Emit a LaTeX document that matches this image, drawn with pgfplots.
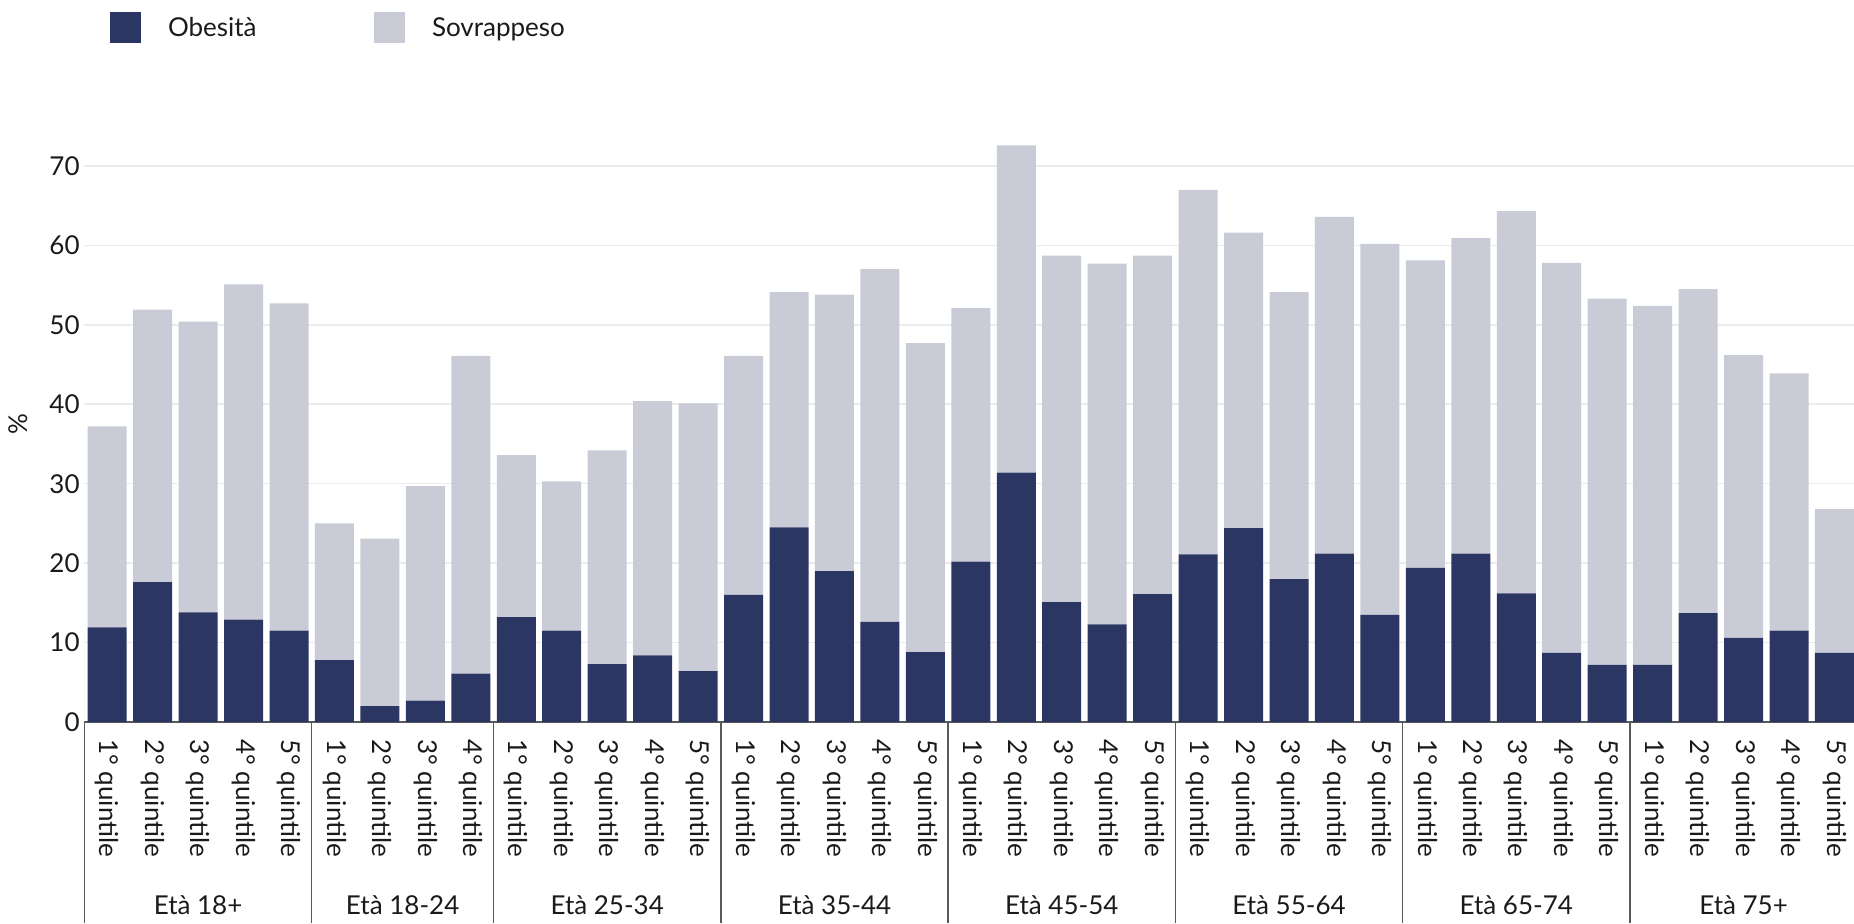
\documentclass[border=0pt]{standalone}
\usepackage{fontspec}
\setmainfont{Lato}
\usepackage{pgfplots}
\pgfplotsset{compat=1.18}
\usepackage{pgfplotstable}
\definecolor{obcol}{HTML}{2B3663}
\definecolor{sovcol}{HTML}{C9CBD7}
\definecolor{gridcol}{HTML}{EBEBEB}
\definecolor{axcol}{HTML}{595959}
\definecolor{txtcol}{HTML}{1A1A1A}
\newcommand{\fs}{\fontsize{13pt}{15.6pt}\selectfont}

\pgfplotstableread{
x ob sov
0 11.9 25.3
1 17.6 34.3
2 13.8 36.6
3 12.9 42.2
4 11.5 41.2
5 7.8 17.2
6 2.0 21.1
7 2.7 27.0
8 6.1 40.0
9 13.2 20.4
10 11.5 18.8
11 7.3 26.9
12 8.4 32.0
13 6.4 33.7
14 16.0 30.1
15 24.5 29.6
16 19.0 34.8
17 12.6 44.4
18 8.8 38.9
19 20.2 31.9
20 31.4 41.2
21 15.1 43.6
22 12.3 45.4
23 16.1 42.6
24 21.1 45.9
25 24.4 37.2
26 18.0 36.1
27 21.2 42.4
28 13.5 46.7
29 19.4 38.7
30 21.2 39.7
31 16.2 48.1
32 8.7 49.1
33 7.2 46.1
34 7.2 45.2
35 13.7 40.8
36 10.6 35.6
37 11.5 32.4
38 8.7 18.1
}\datatable

\begin{document}
\begin{tikzpicture}
\begin{axis}[
  at={(42pt,100.5pt)}, anchor=south west,
  scale only axis, width=885pt, height=297.9pt,
  xmin=-0.51, xmax=38.43, ymin=0, ymax=75,
  ybar stacked, bar width=0.858,
  axis lines*=left,
  y axis line style={draw=none},
  x axis line style={draw=axcol, line width=0.8pt, -},
  ymajorgrids, grid style={gridcol, line width=0.8pt},
  ytick={0,10,...,70},
  major tick length=0pt, tick style={draw=none},
  xtick=data,
  xticklabels={1° quintile,2° quintile,3° quintile,4° quintile,5° quintile,
    1° quintile,2° quintile,3° quintile,4° quintile,
    1° quintile,2° quintile,3° quintile,4° quintile,5° quintile,
    1° quintile,2° quintile,3° quintile,4° quintile,5° quintile,
    1° quintile,2° quintile,3° quintile,4° quintile,5° quintile,
    1° quintile,2° quintile,3° quintile,4° quintile,5° quintile,
    1° quintile,2° quintile,3° quintile,4° quintile,5° quintile,
    1° quintile,2° quintile,3° quintile,4° quintile,5° quintile},
  xticklabel style={rotate=-90, anchor=west, font=\fs, text=txtcol, inner sep=0pt},
  xticklabel shift=8.5pt,
  yticklabel style={font=\fs, text=txtcol, inner sep=0pt},
  yticklabel shift=2pt,
  /pgf/number format/assume math mode=true,
  clip=false,
  legend style={draw=none, fill=none, inner sep=0pt, outer sep=0pt,
    at={(axis description cs:0.01469,1.1917)}, anchor=north west,
    column sep=13.5pt,
    nodes={inner sep=0pt, anchor=base west, font=\fs, text=txtcol}},
  legend columns=2,
  legend image code/.code={\fill[#1] (0pt,-3.1pt) rectangle (15.5pt,12.4pt);},
]
\addplot[fill=obcol, draw=none] table[x=x,y=ob]{\datatable};
\addlegendentry{\makebox[89.5pt][l]{Obesità}}
\addplot[fill=sovcol, draw=none] table[x=x,y=sov]{\datatable};
\addlegendentry{Sovrappeso}

\draw[axcol, line width=0.7pt] (axis cs:-0.5,0) -- ([yshift=-100.5pt]axis cs:-0.5,0);
\draw[axcol, line width=0.7pt] (axis cs:4.5,0) -- ([yshift=-100.5pt]axis cs:4.5,0);
\draw[axcol, line width=0.7pt] (axis cs:8.5,0) -- ([yshift=-100.5pt]axis cs:8.5,0);
\draw[axcol, line width=0.7pt] (axis cs:13.5,0) -- ([yshift=-100.5pt]axis cs:13.5,0);
\draw[axcol, line width=0.7pt] (axis cs:18.5,0) -- ([yshift=-100.5pt]axis cs:18.5,0);
\draw[axcol, line width=0.7pt] (axis cs:23.5,0) -- ([yshift=-100.5pt]axis cs:23.5,0);
\draw[axcol, line width=0.7pt] (axis cs:28.5,0) -- ([yshift=-100.5pt]axis cs:28.5,0);
\draw[axcol, line width=0.7pt] (axis cs:33.5,0) -- ([yshift=-100.5pt]axis cs:33.5,0);

\node[anchor=base, yshift=-96pt, font=\fs, text=txtcol] at (axis cs:2,0) {Età 18+};
\node[anchor=base, yshift=-96pt, font=\fs, text=txtcol] at (axis cs:6.5,0) {Età 18-24};
\node[anchor=base, yshift=-96pt, font=\fs, text=txtcol] at (axis cs:11,0) {Età 25-34};
\node[anchor=base, yshift=-96pt, font=\fs, text=txtcol] at (axis cs:16,0) {Età 35-44};
\node[anchor=base, yshift=-96pt, font=\fs, text=txtcol] at (axis cs:21,0) {Età 45-54};
\node[anchor=base, yshift=-96pt, font=\fs, text=txtcol] at (axis cs:26,0) {Età 55-64};
\node[anchor=base, yshift=-96pt, font=\fs, text=txtcol] at (axis cs:31,0) {Età 65-74};
\node[anchor=base, yshift=-96pt, font=\fs, text=txtcol] at (axis cs:36,0) {Età 75+};

\node[rotate=90, font=\fs, text=txtcol] at ([xshift=-33pt]axis cs:-0.51,37.5) {\%};
\end{axis}
\pgfresetboundingbox
\path[use as bounding box] (0,0) rectangle (927pt,461.5pt);
\end{tikzpicture}
\end{document}
